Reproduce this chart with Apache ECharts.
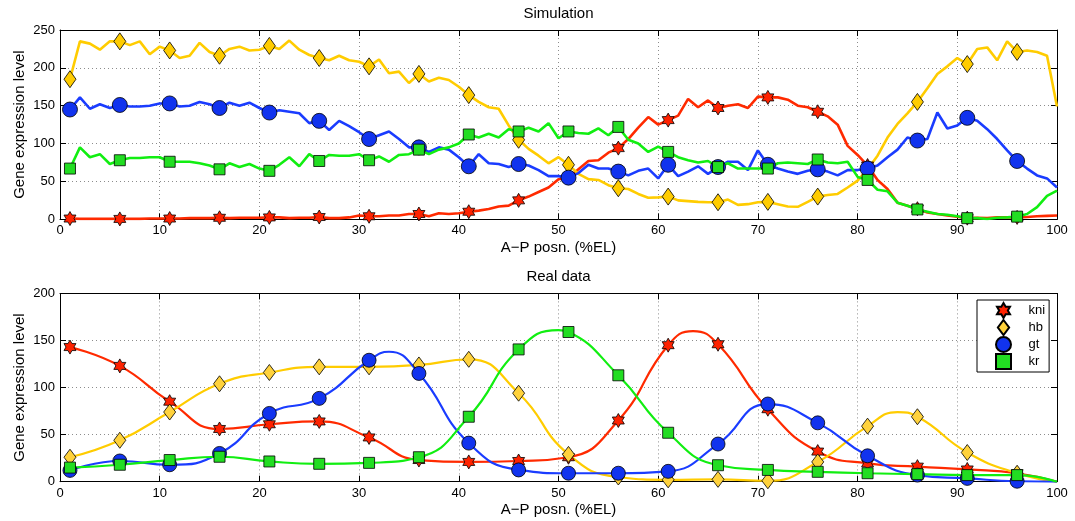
<!DOCTYPE html>
<html>
<head>
<meta charset="utf-8">
<script src="https://cdn.jsdelivr.net/npm/echarts@6/dist/echarts.min.js"></script>
<style>
  html, body { margin: 0; padding: 0; background: #fff; }
  #chart { width: 1075px; height: 521px; }
</style>
</head>
<body>
<div id="chart"></div>
<script>
// ---- Simulation: expression at every 1 %EL ----
const simPositions = [1,2,3,4,5,6,7,8,9,10, 11,12,13,14,15,16,17,18,19,20,
  21,22,23,24,25,26,27,28,29,30, 31,32,33,34,35,36,37,38,39,40,
  41,42,43,44,45,46,47,48,49,50, 51,52,53,54,55,56,57,58,59,60,
  61,62,63,64,65,66,67,68,69,70, 71,72,73,74,75,76,77,78,79,80,
  81,82,83,84,85,86,87,88,89,90, 91,92,93,94,95,96,97,98,99,100];

const kniSim = [1,0.5,0.5,0.5,0.5,0.5,0.5,0.5,1,1, 1,1,1.5,1.5,1.5,2,1.5,2,2,2,
  2.5,2.5,1.5,2,2,3,1.5,1.5,2.5,5, 4,4,5,5,7,7,4,8,7,8,
  10,11.5,13.5,17,18,25,30,36,42,53, 55,66,77,78,88,94,106,121,135,125,
  131,137,159,148,157,147,150,152,147,162, 161,161,158,150,148,142,136,125,97,85,
  71,52,40,22,18,14,9,7,5,3.5, 1.5,2,1.5,2.5,2.5,2.5,3,4,4.5,5];

const hbSim = [185,235,232,224,235,235,230,235,218,228, 223,213,216,233,221,216,225,228,223,224,
  229,225,236,224,217,213,210,216,210,208, 202,211,193,195,180,192,182,187,184,175,
  164,155,148,146,124,105,93,84,74,82, 72,60,53,52,45,41,40,33.5,28.5,29,
  30,25,24,23,22.5,22.5,26,19,20,22.5, 23,20,17,16.5,23,30,32,33.5,42,51,
  66,84,108,126,140,155,173,192,202,213, 205,225,227,210,235,221,223,221,216,149];

const gtSim = [145,161,146,152,147,151,149,149,150,153, 153,149,150,155,152,147,154,150,154,147,
  141,144,142,140,127,130,118,130,123,115, 106,111,116,106,95,95,89,95,92,82,
  70,86,74,73,69,73,71,65,57,57, 55,61,72,67,67,63,58,64,67,54,
  72,57,63,70,60,69,76,76,65,91, 72,67,63,60,64,66,63,58,65,65,
  67,71,82,92,108,104,106,141,120,124, 134,130,119,106,91,77,67,58,54,42];

const krSim = [67,95,82,86,73,78,81,81,82,82, 76,76,76,74,71,66,74,69,73,67,
  64,72,82,70,86,77,85,84,84,86, 78,83,76,85,86,92,86,92,95,100,
  112,108,113,108,119,116,121,116,127,107, 116,114,113,120,111,122,105,100,89,96,
  89,82,78,75,77,69,74,67,67,67, 67,74,75,74,73,79,75,74,76,56,
  52,39,37,22,18,13,10,7,6,4, 1.5,1.5,0.5,2,2.5,3.5,7,16,31,38];

// positions that carry a symbol
const markerPositions = [1,6,11,16,21,26,31,36,41,46,51,56,61,66,71,76,81,86,91,96];

// ---- Real data: measured at every 5 %EL ----
const kniReal = [143,123,85,56,61,64,47,23,21,22,26,65,145,146,77,32,19.5,16,13,9];
const hbReal  = [26,44,74,104,116,122,122,124,130,94,29,5,2,2.5,1,21,59,69,31,9];
const gtReal  = [12,22,18,30,72.5,88.5,129,115,41,12.5,9,9,11,40,82.5,62.5,27.5,7,3.5,0.5];
const krReal  = [15,18,23,26.5,21.5,19,20,26,69,140.5,159,113,52,17.5,12.5,10.5,9,8,7,7];

// extra points along the fitted curves (peaks and the end of the axis)
const kniRealCurve = [[63.5,160],[100,0]];
const hbRealCurve  = [[84,74],[100,0]];
const gtRealCurve  = [[33,138],[100,0]];
const krRealCurve  = [[50,161],[100,0]];

const xTicks = { min: 0, max: 100, interval: 10 };
const simY   = { min: 0, max: 250, interval: 50 };
const realY  = { min: 0, max: 200, interval: 50 };

const FONT = '"Liberation Sans", Arial, Helvetica, sans-serif';
const STAR = 'path://M10 0 L12.887 5 L18.66 5 L15.77 10 L18.66 15 L12.887 15 L10 20 L7.113 15 L1.34 15 L4.23 10 L1.34 5 L7.113 5 Z';
const DIAMOND = 'path://M6 0 L12 8 L6 16 L0 8 Z';
const SQUARE = 'path://M0 0 L10 0 L10 10 L0 10 Z';

const genes = [
  { name: 'kni', line: '#ff2a00', fill: '#ff2200', fillReal: '#ff2200', symbol: STAR,     simSize: [12, 14], realSize: [12, 14],
    sim: kniSim, real: kniReal, curve: kniRealCurve },
  { name: 'hb',  line: '#ffcc00', fill: '#ffcc00', fillReal: '#ffd23c', symbol: DIAMOND,  simSize: [12, 17], realSize: [12, 16],
    sim: hbSim, real: hbReal, curve: hbRealCurve },
  { name: 'gt',  line: '#1a3cff', fill: '#1133ee', fillReal: '#1133ee', symbol: 'circle', simSize: 15, realSize: 14,
    sim: gtSim, real: gtReal, curve: gtRealCurve },
  { name: 'kr',  line: '#11ee11', fill: '#22dd22', fillReal: '#22dd22', symbol: SQUARE,   simSize: 11, realSize: 11,
    sim: krSim, real: krReal, curve: krRealCurve }
];

function pairs(xs, ys) { return xs.map((x, i) => [x, ys[i]]); }

function frameAxes(dim, gridIndex, range) {
  const main = {
    type: 'value', gridIndex: gridIndex,
    min: range.min, max: range.max, interval: range.interval,
    position: dim === 'x' ? 'bottom' : 'left',
    axisLine: { show: true, onZero: false, lineStyle: { color: '#000', width: 1 } },
    axisTick: { show: true, inside: true, length: 6, lineStyle: { color: '#000', width: 1 } },
    axisLabel: { show: true, color: '#000', fontSize: 13, fontFamily: FONT, margin: 5,
                 showMinLabel: true, showMaxLabel: true },
    splitLine: { show: true, lineStyle: { color: '#8c8c8c', width: 1, type: [1, 3] } },
    nameMoveOverlap: false
  };
  if (dim === 'x') {
    main.name = 'A\u2212P posn. (%EL)';
    main.nameLocation = 'middle';
    main.nameGap = 21;
  } else {
    main.name = 'Gene expression level';
    main.nameLocation = 'middle';
    main.nameGap = 33;
    main.nameRotate = 90;
  }
  main.nameTextStyle = { color: '#000', fontSize: 15, fontFamily: FONT };
  const opposite = {
    type: 'value', gridIndex: gridIndex,
    min: range.min, max: range.max, interval: range.interval,
    position: dim === 'x' ? 'top' : 'right',
    axisLine: { show: true, onZero: false, lineStyle: { color: '#000', width: 1 } },
    axisTick: { show: true, inside: true, length: 6, lineStyle: { color: '#000', width: 1 } },
    axisLabel: { show: false },
    splitLine: { show: false }
  };
  return [main, opposite];
}

const series = [];

// Simulation panel: jagged profiles + symbols every 5 %EL
genes.forEach(g => {
  series.push({
    type: 'line', name: g.name + ' simulation', xAxisIndex: 0, yAxisIndex: 0,
    data: pairs(simPositions, g.sim), showSymbol: false, symbol: 'none',
    lineStyle: { color: g.line, width: 2.6 }, z: 2, silent: true
  });
});
genes.forEach(g => {
  series.push({
    type: 'scatter', name: g.name + ' simulation points', xAxisIndex: 0, yAxisIndex: 0,
    data: markerPositions.map(p => [p, g.sim[simPositions.indexOf(p)]]),
    symbol: g.symbol, symbolSize: g.simSize,
    itemStyle: { color: g.fill, borderColor: '#000', borderWidth: 0.8, opacity: 1 },
    z: 4, silent: true
  });
});

// Real-data panel: smooth fits through the measurements
genes.forEach(g => {
  const pts = pairs(markerPositions, g.real).concat(g.curve).sort((a, b) => a[0] - b[0]);
  series.push({
    type: 'line', name: g.name + ' fit', xAxisIndex: 2, yAxisIndex: 2,
    data: pts, smooth: 0.5, showSymbol: false, symbol: 'none',
    lineStyle: { color: g.line, width: 2.2 }, z: 2, silent: true
  });
});
genes.forEach(g => {
  series.push({
    type: 'scatter', name: g.name, xAxisIndex: 2, yAxisIndex: 2,
    data: pairs(markerPositions, g.real),
    symbol: g.symbol, symbolSize: g.realSize,
    itemStyle: { color: g.fillReal, borderColor: '#000', borderWidth: 0.8, opacity: 1 },
    z: 4, silent: true
  });
});

const [xSimMain, xSimTop] = frameAxes('x', 0, xTicks);
const [xRealMain, xRealTop] = frameAxes('x', 1, xTicks);
const [ySimMain, ySimRight] = frameAxes('y', 0, simY);
const [yRealMain, yRealRight] = frameAxes('y', 1, realY);

const option = {
  animation: false,
  backgroundColor: '#fff',
  textStyle: { fontFamily: FONT },
  grid: [
    { left: 60, right: 18, top: 30, height: 189.3 },
    { left: 60, right: 18, top: 293.4, height: 188.3 }
  ],
  xAxis: [xSimMain, xSimTop, xRealMain, xRealTop],
  yAxis: [ySimMain, ySimRight, yRealMain, yRealRight],
  graphic: [
    { type: 'text', x: 558.5, y: 13.5, z: 10,
      style: { text: 'Simulation', fill: '#000', fontSize: 15, fontFamily: FONT,
               textAlign: 'center', textVerticalAlign: 'middle', align: 'center', verticalAlign: 'middle' } },
    { type: 'text', x: 558.5, y: 276.5, z: 10,
      style: { text: 'Real data', fill: '#000', fontSize: 15, fontFamily: FONT,
               textAlign: 'center', textVerticalAlign: 'middle', align: 'center', verticalAlign: 'middle' } }
  ],
  legend: {
    data: [
      { name: 'kni', icon: STAR },
      { name: 'hb', icon: DIAMOND },
      { name: 'gt', icon: 'circle' },
      { name: 'kr', icon: SQUARE }
    ],
    orient: 'vertical', left: 977, top: 300,
    backgroundColor: '#fff', borderColor: '#000', borderWidth: 1, borderRadius: 0,
    padding: [2, 4, 2, 18], itemGap: 0, itemWidth: 40, itemHeight: 15,
    symbolKeepAspect: true,
    textStyle: { color: '#000', fontSize: 13, fontFamily: FONT, lineHeight: 15 },
    selectedMode: false
  },
  series: series
};

const chart = echarts.init(document.getElementById('chart'), null, { renderer: 'canvas' });
chart.setOption(option);
</script>
</body>
</html>
